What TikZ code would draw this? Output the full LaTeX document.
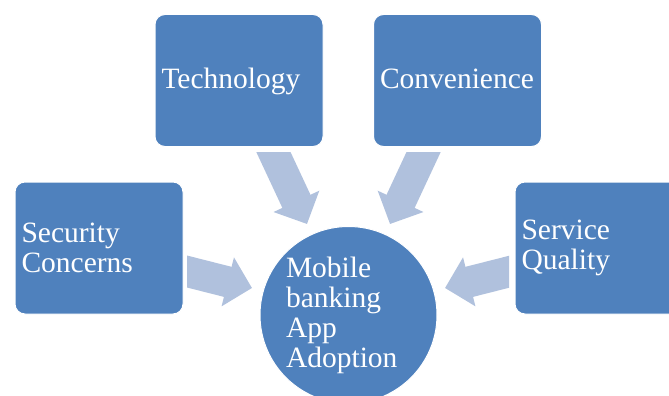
\documentclass[tikz,border=0pt]{standalone}
\usepackage{fontspec}
\setmainfont{Liberation Serif}
\usetikzlibrary{arrows.meta}
\definecolor{boxblue}{HTML}{4F81BD}
\definecolor{arrowblue}{HTML}{B0C1DD}
\tikzset{
  factor/.style={rectangle, rounded corners=10pt, fill=boxblue, draw=white, line width=1pt,
    text=white, text width=155pt, inner xsep=6.5pt, inner ysep=0pt, minimum height=132pt,
    align=left, font=\fontsize{29.5}{30}\selectfont},
  hub/.style={circle, fill=boxblue, draw=white, line width=1pt, text=white,
    minimum size=177pt, inner sep=0pt, text width=125pt, align=left,
    font=\fontsize{29.5}{30}\selectfont},
  blockarrow/.style={draw=arrowblue, line width=31pt,
    -{Triangle[length=25pt,width=49pt]}, arrowblue}
}
\begin{document}
\begin{tikzpicture}[x=1pt,y=-1pt]
\useasboundingbox (0,0) rectangle (669,396);
\clip (0,0) rectangle (669,396);
\fill[white] (0,0) rectangle (669,396);
% nodes
\node[factor] (tech) at (239,80.5) {\strut\raisebox{-2pt}{Technology}};
\node[factor] (conv) at (457.5,80.5) {\strut\raisebox{-2pt}{Convenience}};
\node[factor] (sec) at (99,248) {\raisebox{-2pt}{Security}\\\raisebox{-2pt}{Concerns}};
\node[factor] (serv) at (599,248) {\raisebox{-2pt}{Service}\\\raisebox{-2pt}{Quality}};
\node[hub] (hub) at (348.5,315) {\raisebox{-2pt}{Mobile}\\\raisebox{-2pt}{banking}\\\raisebox{-2pt}{App}\\\raisebox{-2pt}{Adoption}};
% connector end points
\coordinate (techtail) at (265,134);
\coordinate (techtip) at (307,224);
\coordinate (convtail) at (432,134);
\coordinate (convtip) at (390,224);
\coordinate (sectail) at (167.6,266.6);
\coordinate (sectip) at (252,288);
\coordinate (servtail) at (529.4,266.6);
\coordinate (servtip) at (445,288);
% arrows
\begin{scope}
  \clip (0,152) rectangle (669,396);
  \draw[blockarrow] (techtail) -- (techtip);
  \draw[blockarrow] (convtail) -- (convtip);
\end{scope}
\begin{scope}
  \clip (187,0) rectangle (669,396);
  \draw[blockarrow] (sectail) -- (sectip);
\end{scope}
\begin{scope}
  \clip (0,0) rectangle (509,396);
  \draw[blockarrow] (servtail) -- (servtip);
\end{scope}
\end{tikzpicture}
\end{document}
